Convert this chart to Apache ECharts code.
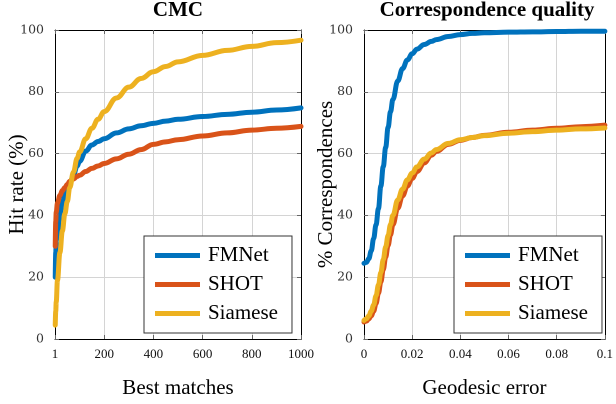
<!DOCTYPE html>
<html>
<head>
<meta charset="utf-8">
<script src="https://cdn.jsdelivr.net/npm/echarts@6/dist/echarts.min.js"></script>
<style>html,body{margin:0;padding:0;background:#fff}#c{width:616px;height:404px}</style>
</head>
<body>
<div id="c"></div>
<script>
// ---- data ----
const seriesNames = ['FMNet', 'SHOT', 'Siamese'];
const cmcX = [1, 3, 5, 10, 20, 30, 40, 50, 60, 75, 90, 100, 125, 150, 175, 200, 250, 300, 350, 400, 450, 500, 600, 700, 800, 900, 1000];
const cmcFMNet = [20, 28, 32, 34, 40.5, 44, 46.5, 48.5, 50.5, 53, 56, 57.5, 60.8, 62.8, 63.9, 64.8, 66.7, 68, 69, 69.8, 70.5, 71.1, 72, 72.7, 73.4, 74.1, 74.8];
const cmcSHOT = [30, 38, 41, 44, 46.5, 48, 49, 50, 51, 51.8, 52.6, 53, 54.2, 55.2, 56, 56.8, 58.3, 59.8, 61.3, 63, 63.8, 64.5, 65.7, 66.7, 67.6, 68.2, 68.8];
const cmcSiamese = [4.5, 9, 12, 19, 28, 35, 40.5, 44.5, 49, 54, 58.5, 60.5, 64.8, 68.2, 71.1, 73.6, 78, 81.5, 84.3, 86.5, 88.2, 89.7, 91.8, 93.4, 94.7, 95.9, 96.7];

const geoX = [0, 0.001, 0.002, 0.003, 0.004, 0.005, 0.006, 0.007, 0.008, 0.009, 0.01, 0.011, 0.012, 0.014, 0.016, 0.018, 0.02, 0.022, 0.025, 0.028, 0.03, 0.035, 0.04, 0.045, 0.05, 0.06, 0.07, 0.08, 0.09, 0.1];
const geoFMNet = [24.5, 24.8, 26, 28.5, 32.5, 37, 42.2, 49.5, 55.8, 62, 68.5, 73.5, 77.5, 83.5, 87.5, 90.3, 92.3, 93.8, 95.3, 96.3, 96.9, 97.9, 98.5, 98.9, 99.1, 99.3, 99.4, 99.5, 99.6, 99.6];
const geoSHOT = [5.5, 5.8, 6.5, 7.5, 9, 11.5, 14.8, 18.5, 22.5, 26.5, 30.3, 33.7, 37, 42.3, 46.3, 49.5, 52, 54.2, 57, 59.5, 60.7, 63, 64.3, 65.2, 65.9, 66.9, 67.6, 68.2, 68.7, 69.2];
const geoSiamese = [6, 6.5, 7.5, 9, 11, 14, 17.5, 21.5, 25.7, 29.8, 33.5, 37, 40, 45, 48.5, 51.5, 53.7, 55.7, 58.2, 60.2, 61.3, 63.3, 64.5, 65.2, 65.8, 66.6, 67.1, 67.6, 68, 68.3];

const leftTitle = 'CMC';
const rightTitle = 'Correspondence quality';
const leftXName = 'Best matches';
const rightXName = 'Geodesic error';
const leftYName = 'Hit rate (%)';
const rightYName = '% Correspondences';
const colors = ['#0072BD', '#D95319', '#EDB120'];

// ---- chart ----
const serif = '"Liberation Serif", "Times New Roman", serif';
const zip = (xs, ys) => xs.map((x, i) => [x, ys[i]]);

function bottomX(idx, opts) {
  return Object.assign({
    type: 'value', gridIndex: idx, position: 'bottom',
    nameLocation: 'middle', nameGap: 39, nameMoveOverlap: false,
    nameTextStyle: { fontFamily: serif, fontSize: 21, color: '#000' },
    axisLine: { show: true, onZero: false, lineStyle: { color: '#000', width: 1 } },
    axisTick: { show: true, inside: true, length: 4, lineStyle: { color: '#666' } },
    splitLine: { show: true, lineStyle: { color: '#d4d4d4', width: 1 } }
  }, opts);
}
function topX(idx, opts) {
  return Object.assign({
    type: 'value', gridIndex: idx, position: 'top',
    axisLine: { show: true, onZero: false, lineStyle: { color: '#000', width: 1 } },
    axisTick: { show: true, inside: true, length: 4, lineStyle: { color: '#666' } },
    axisLabel: { show: false }, splitLine: { show: false }
  }, opts);
}
function leftY(idx, opts) {
  return Object.assign({
    type: 'value', gridIndex: idx, position: 'left', min: 0, max: 100, interval: 20,
    nameLocation: 'middle', nameMoveOverlap: false,
    nameTextStyle: { fontFamily: serif, fontSize: 21, color: '#000' },
    axisLine: { show: true, onZero: false, lineStyle: { color: '#000', width: 1 } },
    axisTick: { show: true, inside: true, length: 4, lineStyle: { color: '#666' } },
    axisLabel: { fontFamily: '"DejaVu Serif", serif', fontSize: 12.5, color: '#333', margin: 11 },
    splitLine: { show: true, lineStyle: { color: '#d4d4d4', width: 1 } }
  }, opts);
}
function rightY(idx) {
  return {
    type: 'value', gridIndex: idx, position: 'right', min: 0, max: 100, interval: 20,
    axisLine: { show: true, onZero: false, lineStyle: { color: '#000', width: 1 } },
    axisTick: { show: true, inside: true, length: 4, lineStyle: { color: '#666' } },
    axisLabel: { show: false }, splitLine: { show: false }
  };
}
function legend(left) {
  return {
    data: seriesNames, orient: 'vertical', left: left, top: 236,
    icon: 'rect', itemWidth: 45, itemHeight: 5, itemGap: 8,
    padding: [9, 14, 9, 11],
    backgroundColor: '#fff', borderColor: '#333', borderWidth: 1, borderRadius: 0,
    textStyle: { fontFamily: serif, fontSize: 21, color: '#000', lineHeight: 21, padding: [0, 0, 0, 3] },
    selectedMode: false
  };
}
function line(name, data, xi, yi, ci) {
  return {
    name: name, type: 'line', xAxisIndex: xi, yAxisIndex: yi, data: data,
    showSymbol: false, symbol: 'none', smooth: 0.4, smoothMonotone: 'x',
    lineStyle: { width: 5, color: colors[ci], cap: 'round', join: 'round' }, itemStyle: { color: colors[ci] },
    animation: false, silent: true
  };
}

const chart = echarts.init(document.getElementById('c'), null, { renderer: 'canvas', devicePixelRatio: 2 });
chart.setOption({
  animation: false,
  color: colors,
  title: [
    { text: leftTitle, left: 178, top: 0, textAlign: 'center', padding: 0,
      textStyle: { fontFamily: serif, fontSize: 21, fontWeight: 'bold', color: '#000' } },
    { text: rightTitle, left: 487, top: 0, textAlign: 'center', padding: 0,
      textStyle: { fontFamily: serif, fontSize: 21, fontWeight: 'bold', color: '#000' } }
  ],
  grid: [
    { left: 55, top: 30, width: 246, height: 314 },
    { left: 364, top: 30, width: 246, height: 313 }
  ],
  xAxis: [
    bottomX(0, { min: 0, max: 1000, interval: 200, name: leftXName,
      axisLabel: { fontFamily: serif, fontSize: 13, color: '#111', margin: 9,
        formatter: v => (v === 0 ? '1' : String(v)) } }),
    bottomX(1, { min: 0, max: 0.1, interval: 0.02, name: rightXName,
      axisLabel: { fontFamily: serif, fontSize: 13, color: '#111', margin: 9,
        formatter: v => String(Math.round(v * 100) / 100) } }),
    topX(0, { min: 0, max: 1000, interval: 200 }),
    topX(1, { min: 0, max: 0.1, interval: 0.02 })
  ],
  yAxis: [
    leftY(0, { name: leftYName, nameGap: 27 }),
    leftY(1, { name: rightYName, nameGap: 27 }),
    rightY(0),
    rightY(1)
  ],
  legend: [legend(144), legend(454)],
  series: [
    line('FMNet', zip(cmcX, cmcFMNet), 0, 0, 0),
    line('SHOT', zip(cmcX, cmcSHOT), 0, 0, 1),
    line('Siamese', zip(cmcX, cmcSiamese), 0, 0, 2),
    line('FMNet', zip(geoX, geoFMNet), 1, 1, 0),
    line('SHOT', zip(geoX, geoSHOT), 1, 1, 1),
    line('Siamese', zip(geoX, geoSiamese), 1, 1, 2)
  ]
});
</script>
</body>
</html>
